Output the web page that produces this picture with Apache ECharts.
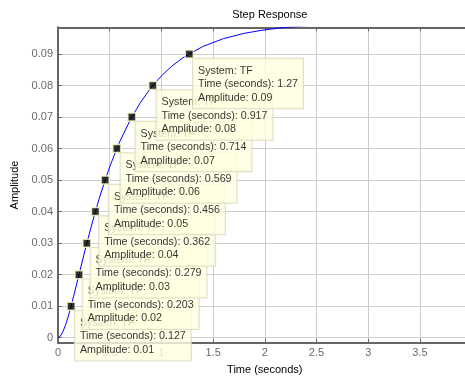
<!DOCTYPE html>
<html>
<head>
<meta charset="utf-8">
<script src="https://cdn.jsdelivr.net/npm/echarts@6/dist/echarts.min.js"></script>
<style>html,body{margin:0;padding:0;background:#fff}#c{width:465px;height:376px}</style>
</head>
<body>
<div id="c"></div>
<script>
// Step response curve (time in seconds, amplitude)
var curveTime = [0, 0.025, 0.05, 0.075, 0.1, 0.127, 0.15, 0.2, 0.203, 0.25, 0.279, 0.3, 0.35, 0.362, 0.4, 0.456, 0.5, 0.569, 0.6, 0.7, 0.714, 0.8, 0.9, 0.917, 1.0, 1.1, 1.2, 1.27, 1.4, 1.6, 1.8, 2.0, 2.2, 2.4, 2.6];
var curveAmp  = [0, 0.000566, 0.002059, 0.004221, 0.006856, 0.01, 0.012976, 0.019593, 0.02, 0.026236, 0.03, 0.032643, 0.038682, 0.04, 0.044292, 0.05, 0.054184, 0.06, 0.062413, 0.069198, 0.07, 0.074771, 0.079341, 0.08, 0.083084, 0.08615, 0.08866, 0.09, 0.092399, 0.094905, 0.096585, 0.097711, 0.098465, 0.098971, 0.09931];
// Data tips
var tipTime = [0.127, 0.203, 0.279, 0.362, 0.456, 0.569, 0.714, 0.917, 1.27];
var tipAmp  = [0.01, 0.02, 0.03, 0.04, 0.05, 0.06, 0.07, 0.08, 0.09];
var systemName = 'TF';
// Axis ticks
var yTicks = [0, 0.01, 0.02, 0.03, 0.04, 0.05, 0.06, 0.07, 0.08, 0.09];
var titleText = 'Step Response';
var xName = 'Time (seconds)';
var yName = 'Amplitude';

var FONT = "'Liberation Sans', Arial, sans-serif";
var chart = echarts.init(document.getElementById('c'), null, {renderer: 'canvas'});
var lineData = curveTime.map(function (t, i) { return [t, curveAmp[i]]; });
var tipData = tipTime.map(function (t, i) { return [t, tipAmp[i]]; });

chart.setOption({
  animation: false,
  backgroundColor: '#ffffff',
  title: {
    text: titleText, left: 264.8, top: 4, textAlign: 'center',
    textStyle: {fontSize: 11, fontWeight: 'normal', color: '#000', fontFamily: FONT}
  },
  grid: {left: 58, top: 27.3, bottom: 33.3, width: 413.6, containLabel: false, outerBoundsMode: 'none'},
  xAxis: [{
    type: 'value', min: 0, max: 4, interval: 0.5, position: 'bottom',
    name: xName, nameLocation: 'middle', nameGap: 22,
    nameTextStyle: {fontSize: 11, color: '#000', fontFamily: FONT},
    axisLine: {onZero: false, lineStyle: {color: '#666', width: 2}},
    axisTick: {inside: true, length: 4, lineStyle: {color: '#666'}},
    axisLabel: {margin: 5, fontSize: 11, color: '#6b6b6b', fontFamily: FONT},
    splitLine: {show: true, lineStyle: {color: '#cccccc', width: 1}}
  }, {
    type: 'value', min: 0, max: 4, interval: 0.5, position: 'top',
    axisLine: {onZero: false, lineStyle: {color: '#666', width: 2}},
    axisTick: {inside: true, length: 4, lineStyle: {color: '#666'}},
    axisLabel: {show: false},
    splitLine: {show: false}
  }],
  yAxis: {
    type: 'value', min: -0.0016, max: 0.0985,
    name: yName, nameLocation: 'middle', nameGap: 34.5,
    nameTextStyle: {fontSize: 11, color: '#000', fontFamily: FONT},
    axisLine: {show: true, onZero: false, lineStyle: {color: '#666', width: 2}},
    axisTick: {show: true, inside: true, length: 4, customValues: yTicks, lineStyle: {color: '#666'}},
    axisLabel: {margin: 5, fontSize: 11, color: '#6b6b6b', fontFamily: FONT, customValues: yTicks},
    splitLine: {show: true, lineStyle: {color: '#cccccc', width: 1}}
  },
  series: [{
    type: 'line', data: lineData, showSymbol: false, clip: true,
    lineStyle: {color: '#0000ff', width: 1}, z: 2
  }, {
    type: 'scatter', data: tipData, symbol: 'rect', symbolSize: 8, z: 3,
    itemStyle: {color: '#000', borderColor: '#ffffc8', borderWidth: 1.5},
    label: {
      show: true, position: [8.5, 9.5], align: 'left', verticalAlign: 'top',
      formatter: function (p) {
        return 'System: ' + systemName + '\nTime (seconds): ' + p.value[0] + '\nAmplitude: ' + p.value[1];
      },
      fontSize: 10.7, lineHeight: 13.5, color: '#000', fontFamily: FONT,
      backgroundColor: '#ffffe1', borderColor: '#d6d6bc', borderWidth: 1,
      padding: [5, 5, 4, 5]
    },
    emphasis: {disabled: true}
  }]
});
</script>
</body>
</html>
